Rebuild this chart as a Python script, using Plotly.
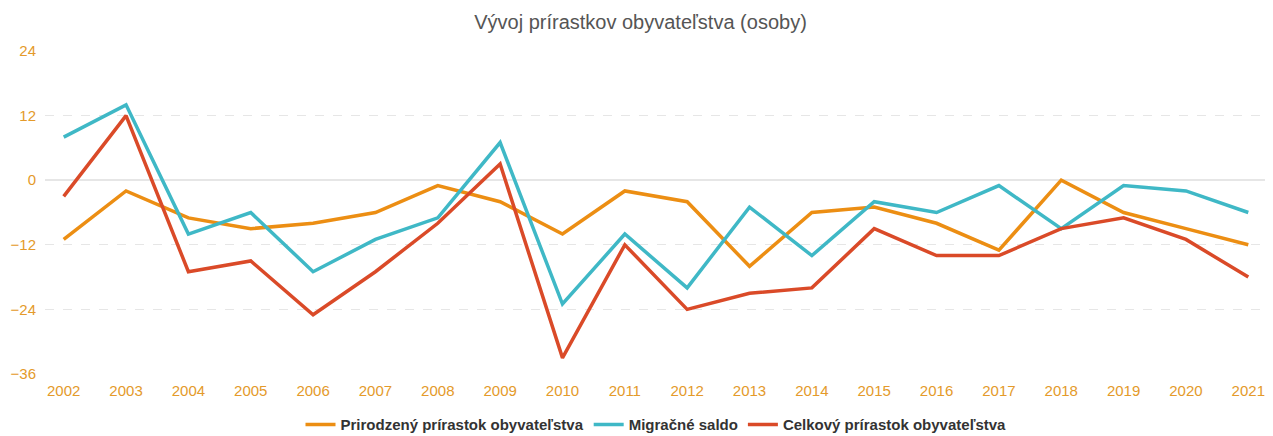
import plotly.graph_objects as go

years = [str(y) for y in range(2002, 2022)]
prirodzeny = [-11, -2, -7, -9, -8, -6, -1, -4, -10, -2, -4, -16, -6, -5, -8, -13, 0, -6, -9, -12]
migracne = [8, 14, -10, -6, -17, -11, -7, 7, -23, -10, -20, -5, -14, -4, -6, -1, -9, -1, -2, -6]
celkovy = [-3, 12, -17, -15, -25, -17, -8, 3, -33, -12, -24, -21, -20, -9, -14, -14, -9, -7, -11, -18]

series = [
    ("Prirodzený prírastok obyvateľstva", prirodzeny, "#EC8E13"),
    ("Migračné saldo", migracne, "#3FB8C6"),
    ("Celkový prírastok obyvateľstva", celkovy, "#DA4A28"),
]

fig = go.Figure()
for name, vals, col in series:
    fig.add_trace(go.Scatter(x=years, y=vals, name=name, mode="lines",
                             line=dict(color=col, width=3.5)))

# page body has an 8px margin, so the figure is a bit smaller than the window
fig.update_layout(
    width=1265, height=428,
    margin=dict(l=37, r=6, t=43, b=62, autoexpand=False),
    paper_bgcolor="white", plot_bgcolor="white",
    font=dict(family="Liberation Sans, Arial, sans-serif"),
    title=dict(text="Vývoj prírastkov obyvateľstva (osoby)", x=0.5, xanchor="center",
               y=0.967, yanchor="middle",
               font=dict(size=20, color="#555555")),
    xaxis=dict(type="category", range=[-0.3, 19.3], showgrid=False, showline=False,
               ticks="", ticklabelstandoff=6, tickfont=dict(size=15, color="#E49A2A")),
    yaxis=dict(range=[-36, 24], tickvals=[-36, -24, -12, 0, 12, 24],
               showgrid=True, gridcolor="#e6e6e6", griddash="dash", gridwidth=1,
               zeroline=True, zerolinecolor="#e6e6e6", zerolinewidth=1.5,
               tickfont=dict(size=15, color="#E49A2A"), ticks="", ticklabelstandoff=8),
    legend=dict(orientation="h", x=0.5, xanchor="center", yref="container",
                y=0.026, yanchor="middle",
                font=dict(size=15, color="#333333", weight=700,
                          family="Liberation Sans, Arial, sans-serif"),
                itemwidth=30, tracegroupgap=0),
)

fig.write_html("out.html")
